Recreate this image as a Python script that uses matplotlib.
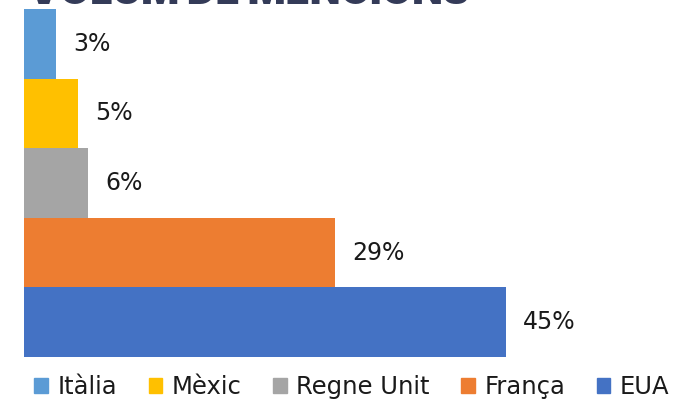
import matplotlib.pyplot as plt
from matplotlib.patches import Patch

# data (bottom to top)
paisos = ["EUA", "França", "Regne Unit", "Mèxic", "Itàlia"]
valors = [45, 29, 6, 5, 3]
colors = ["#4472C4", "#ED7D31", "#A5A5A5", "#FFC000", "#5B9BD5"]
etiquetes = ["45%", "29%", "6%", "5%", "3%"]

W, H = 674, 401
fig = plt.figure(figsize=(W / 100, H / 100), dpi=100)
ax = fig.add_axes([24 / W, 44 / H, 535.6 / W, 348 / H])

ax.barh(range(len(paisos)), valors, height=1.0, color=colors)
for i in range(len(paisos)):
    ax.text(valors[i] + 1.6, i, etiquetes[i], va="center", ha="left",
            fontsize=17, color="#1a1a1a", family="DejaVu Sans")

ax.set_xlim(0, 50)
ax.set_ylim(-0.5, 4.5)
ax.axis("off")

# title, cut off at the top of the image
fig.text(28 / W, 1 - 4 / H, "VOLUM DE MENCIONS", ha="left", va="baseline",
         fontsize=28.5, fontweight="black", family="Inter", color="#343B58")

handles = [Patch(color=colors[i]) for i in range(4, -1, -1)]
labels = [paisos[i] for i in range(4, -1, -1)]
fig.legend(handles, labels, loc="center", bbox_to_anchor=(352 / W, 1 - 387 / H),
           ncol=5, frameon=False, handlelength=0.55, handleheight=0.55,
           handletextpad=0.4, columnspacing=1.3, borderpad=0, borderaxespad=0,
           prop={"family": "DejaVu Sans", "size": 17.5}, labelcolor="#1a1a1a")

fig.savefig("out.png", dpi=100)
